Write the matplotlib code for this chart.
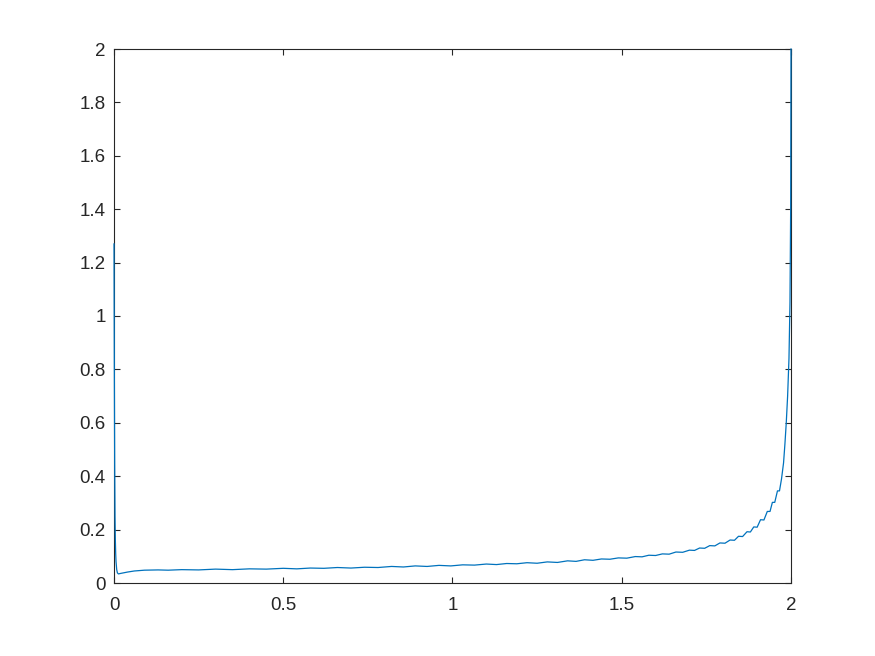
import matplotlib
matplotlib.use("Agg")
import matplotlib.pyplot as plt

x_vals = [0.000, 0.001, 0.002, 0.003, 0.004, 0.005, 0.006, 0.008, 0.010, 0.013,
          0.020, 0.040, 0.060, 0.090, 0.130, 0.160, 0.200, 0.250, 0.300, 0.350,
          0.400, 0.450, 0.500, 0.540, 0.580, 0.620, 0.660, 0.700, 0.740, 0.780,
          0.820, 0.855, 0.890, 0.925, 0.960, 0.995, 1.030, 1.065, 1.100, 1.130,
          1.160, 1.190, 1.220, 1.250, 1.280, 1.310, 1.340, 1.365, 1.390, 1.415,
          1.440, 1.465, 1.490, 1.515, 1.540, 1.560, 1.580, 1.600, 1.620, 1.640,
          1.660, 1.680, 1.700, 1.715, 1.730, 1.745, 1.760, 1.775, 1.790, 1.805,
          1.820, 1.833, 1.845, 1.857, 1.870, 1.880, 1.890, 1.900, 1.910, 1.920,
          1.930, 1.938, 1.945, 1.952, 1.960, 1.966, 1.972, 1.978, 1.982, 1.986,
          1.990, 1.994, 1.997, 1.999, 2.000]
y_vals = [1.27, 0.80, 0.45, 0.25, 0.16, 0.11, 0.08, 0.05, 0.038, 0.034,
          0.036, 0.041, 0.045, 0.048, 0.049, 0.048, 0.050, 0.049, 0.052, 0.050,
          0.053, 0.052, 0.055, 0.053, 0.056, 0.055, 0.058, 0.056, 0.059, 0.058,
          0.062, 0.060, 0.064, 0.062, 0.066, 0.064, 0.068, 0.067, 0.071, 0.069,
          0.073, 0.072, 0.076, 0.074, 0.079, 0.077, 0.083, 0.081, 0.087, 0.085,
          0.090, 0.089, 0.094, 0.093, 0.099, 0.098, 0.104, 0.103, 0.109, 0.108,
          0.116, 0.115, 0.123, 0.122, 0.131, 0.130, 0.140, 0.139, 0.150, 0.149,
          0.161, 0.160, 0.175, 0.174, 0.192, 0.191, 0.210, 0.209, 0.237, 0.236,
          0.268, 0.268, 0.302, 0.302, 0.345, 0.345, 0.390, 0.45, 0.52, 0.60,
          0.70, 0.84, 1.05, 1.40, 2.00]

x_ticks = [0, 0.5, 1, 1.5, 2]
x_tick_labels = ["0", "0.5", "1", "1.5", "2"]
y_ticks = [0, 0.2, 0.4, 0.6, 0.8, 1, 1.2, 1.4, 1.6, 1.8, 2]
y_tick_labels = ["0", "0.2", "0.4", "0.6", "0.8", "1", "1.2", "1.4", "1.6", "1.8", "2"]

plt.rcParams['font.family'] = ['Liberation Sans', 'DejaVu Sans']

fig = plt.figure(figsize=(8.75, 6.56), dpi=100)
ax = fig.add_axes([114/875, 73/656, 677/875, 534/656])
ax.plot(x_vals, y_vals, color='#0072BD', linewidth=0.9, zorder=3, clip_on=False)
ax.set_xlim(0, 2)
ax.set_ylim(0, 2)
ax.set_xticks(x_ticks)
ax.set_xticklabels(x_tick_labels)
ax.set_yticks(y_ticks)
ax.set_yticklabels(y_tick_labels)
for s in ax.spines.values():
    s.set_color('#262626')
    s.set_linewidth(0.8)
ax.tick_params(direction='in', length=4.5, width=0.8, color='#262626',
               labelcolor='#262626', labelsize=13.5, top=True, right=True)
ax.tick_params(axis='x', pad=10)
ax.tick_params(axis='y', pad=6)
fig.savefig('out.png', dpi=100, facecolor='white')
